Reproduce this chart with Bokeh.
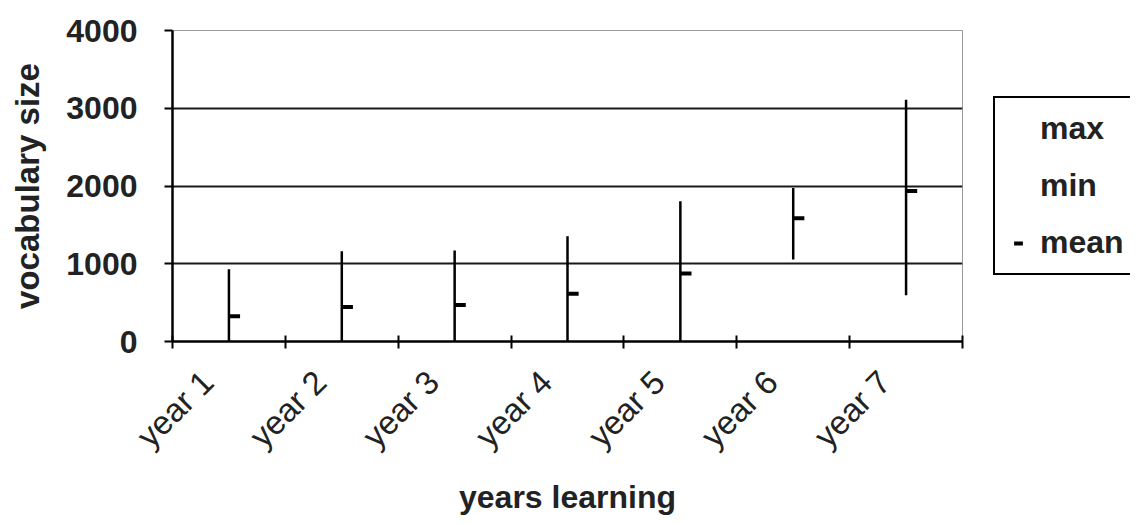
import math
from bokeh.plotting import figure
from bokeh.layouts import row
from bokeh.models import Range1d, FixedTicker, Legend, LegendItem, ColumnDataSource
from bokeh.transform import dodge
from bokeh.embed import file_html
from bokeh.resources import INLINE

categories = ["year 1", "year 2", "year 3", "year 4", "year 5", "year 6", "year 7"]
max_vals = [930, 1160, 1170, 1355, 1805, 1975, 3110]
min_vals = [0, 0, 0, 0, 0, 1055, 595]
mean_vals = [325, 445, 470, 615, 875, 1585, 1935]
y_ticks = [0, 1000, 2000, 3000, 4000]
legend_labels = ["max", "min", "mean"]

FONT = "Liberation Sans"
TXT = "#222222"

xpos = [i + 0.5 for i in range(len(categories))]
# rotated labels sit a little to the left of the category centre
label_pos = [x - 0.19 for x in xpos]
src = ColumnDataSource(dict(x=xpos, cat=categories, hi=max_vals, lo=min_vals, mean=mean_vals))

p = figure(width=990, height=517, output_backend="svg", toolbar_location=None,
           x_range=Range1d(0, len(categories)), y_range=Range1d(0, y_ticks[-1]),
           min_border_left=172, min_border_right=28, min_border_top=30, min_border_bottom=172,
           background_fill_color="white", border_fill_color="white")

p.outline_line_color = "#9a9a9a"
p.outline_line_width = 1

# hi-lo lines
p.segment(x0="x", y0="lo", x1="x", y1="hi", source=src, line_color="black", line_width=2.5)
# mean dash
p.scatter(x=dodge("x", 0.05, range=p.x_range), y="mean", source=src, marker="dash",
          size=11, line_width=4, line_color="black")

# y axis
p.yaxis.ticker = FixedTicker(ticks=y_ticks)
p.yaxis.major_tick_in = 0
p.yaxis.major_tick_out = 8
p.yaxis.minor_tick_line_color = None
p.yaxis.major_tick_line_width = 2
p.yaxis.axis_line_width = 2.5
p.yaxis.axis_line_color = "black"
p.yaxis.major_label_text_font = FONT
p.yaxis.major_label_text_font_size = "32px"
p.yaxis.major_label_text_font_style = "bold"
p.yaxis.major_label_text_color = TXT
p.yaxis.major_label_standoff = 27
p.yaxis.axis_label = "vocabulary size"
p.yaxis.axis_label_text_font = FONT
p.yaxis.axis_label_text_font_size = "33px"
p.yaxis.axis_label_text_font_style = "bold"
p.yaxis.axis_label_text_color = TXT
p.yaxis.axis_label_standoff = 17

p.ygrid.ticker = FixedTicker(ticks=y_ticks)
p.ygrid.grid_line_color = "#1a1a1a"
p.ygrid.grid_line_width = 2
p.xgrid.visible = False

# x axis
p.xaxis.ticker = FixedTicker(ticks=label_pos, minor_ticks=list(range(len(categories) + 1)))
p.xaxis.major_tick_in = 0
p.xaxis.major_tick_out = 0
p.xaxis.minor_tick_in = 6
p.xaxis.minor_tick_out = 7
p.xaxis.minor_tick_line_color = "black"
p.xaxis.minor_tick_line_width = 2
p.xaxis.axis_line_width = 2.5
p.xaxis.axis_line_color = "black"
p.xaxis.major_label_overrides = {x: c for x, c in zip(label_pos, categories)}
p.xaxis.major_label_orientation = math.pi / 4
p.xaxis.major_label_text_font = FONT
p.xaxis.major_label_text_font_size = "33px"
p.xaxis.major_label_text_color = TXT
p.xaxis.major_label_standoff = 28
p.xaxis.axis_label = "years learning"
p.xaxis.axis_label_text_font = FONT
p.xaxis.axis_label_text_font_size = "32px"
p.xaxis.axis_label_text_font_style = "bold"
p.xaxis.axis_label_text_color = TXT
p.xaxis.axis_label_standoff = 8

# legend panel (separate small figure to the right of the chart)
pl = figure(width=140, height=517, output_backend="svg", toolbar_location=None,
            x_range=Range1d(0, 1), y_range=Range1d(0, 1),
            min_border=0, background_fill_color="white", border_fill_color="white")
pl.axis.visible = False
pl.grid.visible = False
pl.outline_line_color = None
# legend-only renderers (the data lie outside this panel's ranges, so only the legend shows)
r_max = pl.scatter(x="x", y="hi", source=src, size=1, fill_alpha=0, line_alpha=0)
r_min = pl.scatter(x="x", y="lo", source=src, size=1, fill_alpha=0, line_alpha=0)
r_mean = pl.scatter(x="x", y="mean", source=src, marker="dash", size=11, line_width=4,
                    line_color="black")

legend = Legend(items=[LegendItem(label=legend_labels[0], renderers=[r_max]),
                       LegendItem(label=legend_labels[1], renderers=[r_min]),
                       LegendItem(label=legend_labels[2], renderers=[r_mean])],
                location=(3, 66))
legend.border_line_color = "black"
legend.border_line_width = 2
legend.border_line_alpha = 1
legend.background_fill_color = "white"
legend.background_fill_alpha = 1
legend.label_text_font = FONT
legend.label_text_font_size = "32px"
legend.label_text_font_style = "bold"
legend.label_text_color = TXT
legend.padding = 12
legend.spacing = 20
legend.label_height = 30
legend.glyph_height = 30
legend.glyph_width = 22
legend.label_standoff = 11
legend.margin = 0
pl.add_layout(legend, "center")

layout = row(p, pl, spacing=0)
open("out.html", "w").write(file_html(layout, INLINE))
